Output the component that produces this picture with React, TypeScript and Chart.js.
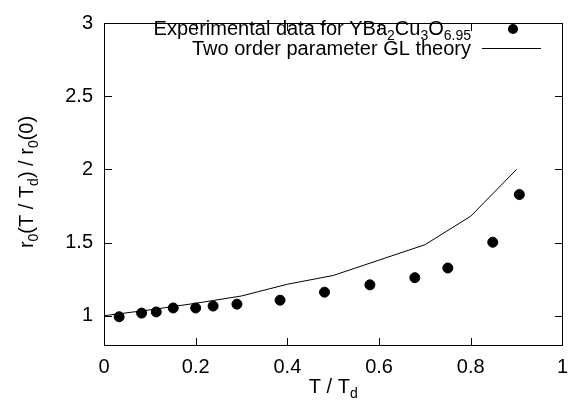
import React, { useEffect, useRef } from "react";
import { Chart, registerables } from "chart.js";

Chart.register(...registerables);

// ---- data ----
const xTicks = [0, 0.2, 0.4, 0.6, 0.8, 1];
const yTicks = [1, 1.5, 2, 2.5, 3];
const xRange = [0, 1];
const yRange = [0.8, 3];
const expT = [0.033, 0.082, 0.114, 0.151, 0.2, 0.238, 0.29, 0.384, 0.481, 0.58, 0.678, 0.75, 0.848, 0.906];
const expR = [0.993, 1.018, 1.026, 1.053, 1.053, 1.066, 1.079, 1.106, 1.161, 1.211, 1.26, 1.326, 1.502, 1.828];
const theoryT = [0, 0.1, 0.2, 0.3, 0.4, 0.5, 0.6, 0.7, 0.8, 0.9];
const theoryR = [1.0, 1.04, 1.085, 1.135, 1.215, 1.275, 1.38, 1.485, 1.68, 2.0];

const FONT = "Liberation Sans, Arial, sans-serif";
const MAIN = 20;
const SUB = 14;

type Seg = { t: string; sub?: boolean };

function segWidth(ctx: CanvasRenderingContext2D, segs: Seg[]) {
  let w = 0;
  for (const s of segs) {
    ctx.font = `${s.sub ? SUB : MAIN}px ${FONT}`;
    w += ctx.measureText(s.t).width;
  }
  return w;
}

function drawSegs(ctx: CanvasRenderingContext2D, segs: Seg[], x: number, y: number) {
  let cx = x;
  ctx.textAlign = "left";
  ctx.textBaseline = "alphabetic";
  for (const s of segs) {
    ctx.font = `${s.sub ? SUB : MAIN}px ${FONT}`;
    ctx.fillText(s.t, cx, s.sub ? y + 5 : y);
    cx += ctx.measureText(s.t).width;
  }
}

const legendExp: Seg[] = [
  { t: "Experimental data for YBa" },
  { t: "2", sub: true },
  { t: "Cu" },
  { t: "3", sub: true },
  { t: "O" },
  { t: "6.95", sub: true },
];
const legendTheory: Seg[] = [{ t: "Two order parameter GL theory" }];
const xTitle: Seg[] = [{ t: "T / T" }, { t: "d", sub: true }];
const yTitle: Seg[] = [
  { t: "r" },
  { t: "0", sub: true },
  { t: "(T / T" },
  { t: "d", sub: true },
  { t: ") / r" },
  { t: "0", sub: true },
  { t: "(0)" },
];

const framePlugin = {
  id: "gpframe",
  afterDraw(chart: any) {
    const ctx: CanvasRenderingContext2D = chart.ctx;
    const a = chart.chartArea;
    const xs = chart.scales.x;
    const ys = chart.scales.y;
    ctx.save();
    ctx.fillStyle = "#000";
    const xl = Math.round(a.left);
    const xr = Math.round(a.right);
    const yt = Math.round(a.top);
    const yb = Math.round(a.bottom);
    ctx.fillRect(xl, yt, xr - xl + 1, 1);
    ctx.fillRect(xl, yb, xr - xl + 1, 1);
    ctx.fillRect(xl, yt, 1, yb - yt + 1);
    ctx.fillRect(xr, yt, 1, yb - yt + 1);
    const tl = 7;
    for (let i = 0; i < xTicks.length; i++) {
      const px = Math.round(xs.getPixelForValue(xTicks[i]));
      ctx.fillRect(px, yb - tl, 1, tl);
      ctx.fillRect(px, yt + 1, 1, tl);
    }
    for (let i = 0; i < yTicks.length; i++) {
      const py = Math.round(ys.getPixelForValue(yTicks[i]));
      ctx.fillRect(xl + 1, py, tl, 1);
      ctx.fillRect(xr - tl, py, tl, 1);
    }

    const textRight = 471;
    const w1 = segWidth(ctx, legendExp);
    drawSegs(ctx, legendExp, textRight - w1, 35);
    const w2 = segWidth(ctx, legendTheory);
    drawSegs(ctx, legendTheory, textRight - w2, 55);
    ctx.beginPath();
    ctx.arc(513, 29, 5, 0, Math.PI * 2);
    ctx.fill();
    ctx.fillRect(482, 48, 59, 1);

    const wx = segWidth(ctx, xTitle);
    drawSegs(ctx, xTitle, (a.left + a.right) / 2 - wx / 2, 393);

    const wy = segWidth(ctx, yTitle);
    ctx.translate(33, 182);
    ctx.rotate(-Math.PI / 2);
    drawSegs(ctx, yTitle, -wy / 2, 0);
    ctx.restore();
  },
};

export default function App() {
  const ref = useRef<HTMLCanvasElement>(null);
  useEffect(() => {
    if (!ref.current) return;
    const chart = new Chart(ref.current, {
      type: "scatter",
      data: {
        datasets: [
          {
            data: theoryT.map((t, i) => ({ x: t, y: theoryR[i] })),
            showLine: true,
            borderColor: "#000",
            backgroundColor: "#000",
            borderWidth: 1,
            pointRadius: 0,
          },
          {
            data: expT.map((t, i) => ({ x: t, y: expR[i] })),
            backgroundColor: "#000",
            borderColor: "#000",
            pointRadius: 5,
          },
        ],
      },
      options: {
        responsive: false,
        animation: false,
        events: [],
        layout: { padding: { top: 13, right: 13, left: 0, bottom: 0 } },
        plugins: { legend: { display: false }, tooltip: { enabled: false } },
        scales: {
          x: {
            min: xRange[0],
            max: xRange[1],
            afterBuildTicks: (s: any) => {
              s.ticks = xTicks.map((v) => ({ value: v }));
            },
            afterFit: (s: any) => {
              s.height = 65;
            },
            grid: { color: "rgba(0,0,0,0)", drawTicks: false },
            border: { color: "#000" },
            ticks: {
              color: "#000",
              font: { family: FONT, size: MAIN },
              padding: 10,
              maxRotation: 0,
              autoSkip: false,
              callback: (v: any) => String(v),
            },
          },
          y: {
            min: yRange[0],
            max: yRange[1],
            afterBuildTicks: (s: any) => {
              s.ticks = yTicks.map((v) => ({ value: v }));
            },
            afterFit: (s: any) => {
              s.width = 104;
            },
            grid: { color: "rgba(0,0,0,0)", drawTicks: false },
            border: { color: "#000" },
            ticks: {
              color: "#000",
              font: { family: FONT, size: MAIN },
              padding: 11,
              autoSkip: false,
              callback: (v: any) => String(v),
            },
          },
        },
      },
      plugins: [framePlugin],
    });
    return () => chart.destroy();
  }, []);
  return (
    <div style={{ position: "fixed", left: 0, top: 0, width: 578, height: 410, background: "#fff" }}>
      <canvas ref={ref} width={578} height={410} />
    </div>
  );
}
